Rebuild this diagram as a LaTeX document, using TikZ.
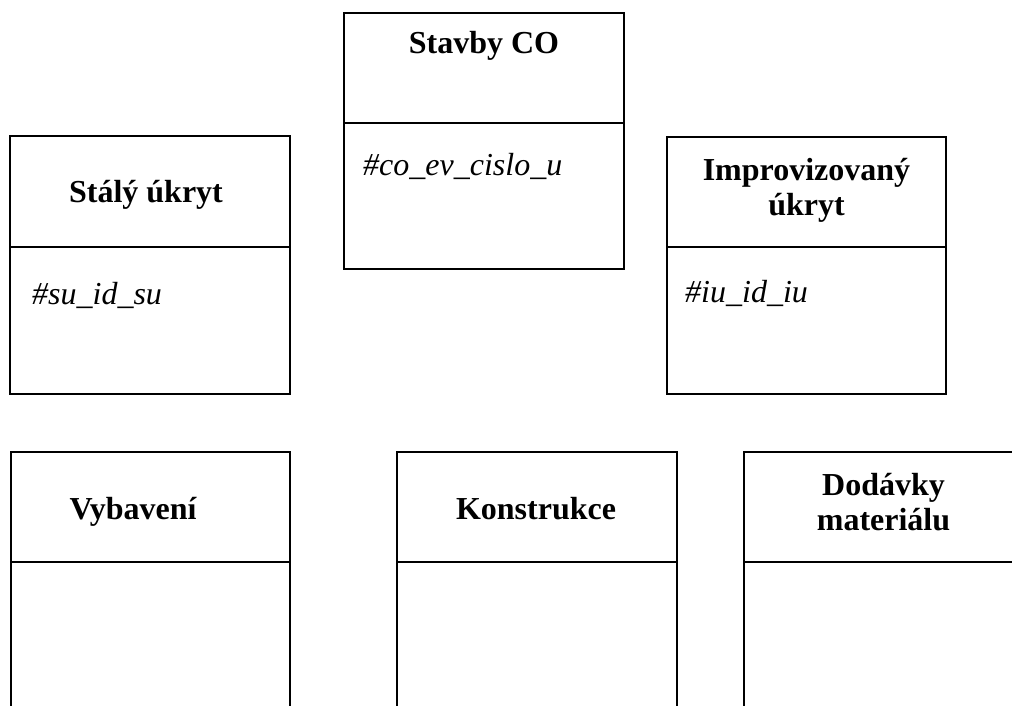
\documentclass[tikz,border=0pt]{standalone}
\usepackage{fontspec}
\setmainfont{Liberation Serif}
\begin{document}
\begin{tikzpicture}[x=1pt,y=-1pt,
  box/.style={draw=black, line width=2pt, inner sep=0pt, outer sep=0pt, anchor=north west},
  title/.style={font=\fontsize{32}{35}\selectfont\bfseries, anchor=base, align=center, inner sep=0pt},
  attr/.style={font=\fontsize{32}{35}\selectfont\itshape, anchor=base west, inner sep=0pt}]
\useasboundingbox (0,0) rectangle (1012,705);
\clip (0,0) rectangle (1012,705);

% Stavby CO
\node[box, minimum width=280pt, minimum height=110pt] (coHead) at (344,13) {};
\node[box, minimum width=280pt, minimum height=146pt] (coBody) at (344,123) {};
\node[title] (coTitle) at (484,53) {Stavby CO};
\node[attr] (coAttr) at (363,175) {\#co\_ev\_cislo\_u};

% Stálý úkryt
\node[box, minimum width=280pt, minimum height=111pt] (suHead) at (10,136) {};
\node[box, minimum width=280pt, minimum height=147pt] (suBody) at (10,247) {};
\node[title] (suTitle) at (146,202) {Stálý úkryt};
\node[attr] (suAttr) at (32,304) {\#su\_id\_su};

% Improvizovaný úkryt (base anchor sits on the last line)
\node[box, minimum width=279pt, minimum height=110pt] (iuHead) at (667,137) {};
\node[box, minimum width=279pt, minimum height=147pt] (iuBody) at (667,247) {};
\node[title] (iuTitle) at (806.5,215) {Improvizovaný\\úkryt};
\node[attr] (iuAttr) at (685,302) {\#iu\_id\_iu};

% Vybavení
\node[box, minimum width=279pt, minimum height=110pt] (vyHead) at (11,452) {};
\node[box, minimum width=279pt, minimum height=170pt] (vyBody) at (11,562) {};
\node[title] (vyTitle) at (133,519) {Vybavení};

% Konstrukce
\node[box, minimum width=280pt, minimum height=110pt] (koHead) at (397,452) {};
\node[box, minimum width=280pt, minimum height=170pt] (koBody) at (397,562) {};
\node[title] (koTitle) at (536,519) {Konstrukce};

% Dodávky materiálu
\node[box, minimum width=290pt, minimum height=110pt] (doHead) at (744,452) {};
\node[box, minimum width=290pt, minimum height=170pt] (doBody) at (744,562) {};
\node[title] (doTitle) at (883.5,530) {Dodávky\\materiálu};
\end{tikzpicture}
\end{document}
